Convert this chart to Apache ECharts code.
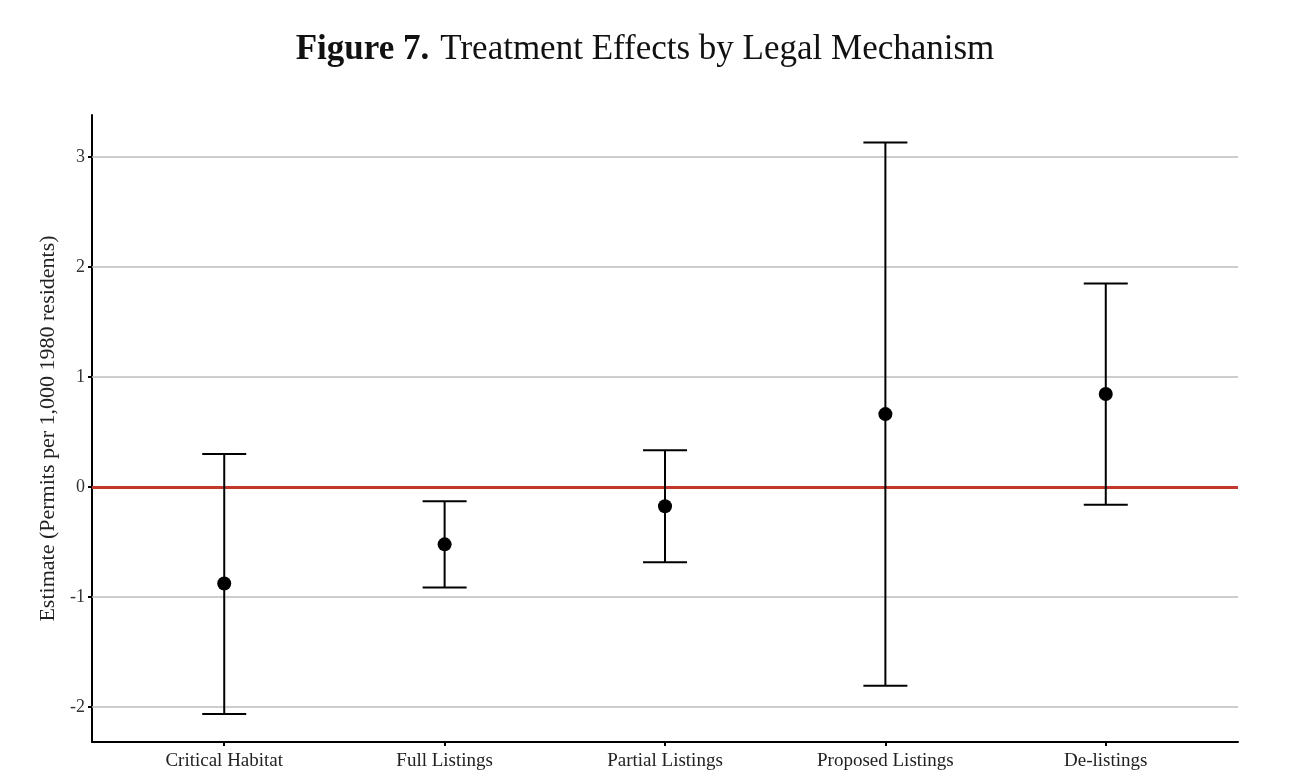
<!DOCTYPE html>
<html>
<head>
<meta charset="utf-8">
<script src="https://cdn.jsdelivr.net/npm/echarts@6/dist/echarts.min.js"></script>
<style>
  html, body { margin: 0; padding: 0; background: #fff; }
  #chart { width: 1290px; height: 782px; }
</style>
</head>
<body>
<div id="chart"></div>
<script>
var categories = ['Critical Habitat', 'Full Listings', 'Partial Listings', 'Proposed Listings', 'De-listings'];
var estimates = [-0.877, -0.522, -0.175, 0.662, 0.844];
var upperCI = [0.30, -0.13, 0.334, 3.13, 1.848];
var lowerCI = [-2.064, -0.915, -0.685, -1.807, -0.161];
var yTicks = [-2, -1, 0, 1, 2, 3];
var gridValues = [-2, -1, 1, 2, 3];

var serif = '"Liberation Serif", "DejaVu Serif", serif';

function initChart() {
  var barData = [];
  var pointData = [];
  for (var i = 0; i < categories.length; i++) {
    barData.push([i, lowerCI[i], upperCI[i]]);
    pointData.push([i, estimates[i]]);
  }

  var option = {
    animation: false,
    backgroundColor: '#fff',
    title: {
      text: '{b|Figure 7.}  {n|Treatment Effects by Legal Mechanism}',
      left: 'center',
      top: 27,
      textStyle: {
        fontWeight: 'normal',
        fontSize: 20,
        rich: {
          b: { fontFamily: serif, fontSize: 35, fontWeight: 'bold', color: '#111' },
          n: { fontFamily: serif, fontSize: 35, fontWeight: 'normal', color: '#111' }
        }
      }
    },
    grid: { left: 92, right: 52, top: 115, bottom: 40 },
    xAxis: {
      type: 'value',
      min: -0.6,
      max: 4.6,
      splitLine: { show: false },
      axisLine: { show: true, onZero: false, lineStyle: { color: '#000', width: 2 } },
      axisTick: { show: true, customValues: [0, 1, 2, 3, 4], length: 4, lineStyle: { color: '#000', width: 2 } },
      axisLabel: {
        customValues: [0, 1, 2, 3, 4],
        formatter: function (v) { return categories[Math.round(v)]; },
        fontFamily: serif,
        fontSize: 19,
        color: '#222',
        margin: 10
      }
    },
    yAxis: {
      type: 'value',
      min: -2.318,
      max: 3.38,
      name: 'Estimate (Permits per 1,000 1980 residents)',
      nameLocation: 'middle',
      nameGap: 33,
      nameTextStyle: { fontFamily: serif, fontSize: 22, color: '#222' },
      splitLine: { show: false },
      axisLine: { show: true, onZero: false, lineStyle: { color: '#000', width: 2 } },
      axisTick: { show: true, customValues: yTicks, length: 4, lineStyle: { color: '#000', width: 2 } },
      axisLabel: {
        customValues: yTicks,
        fontFamily: serif,
        fontSize: 18,
        color: '#333',
        margin: 7
      }
    },
    series: [
      {
        // gridlines and zero line
        type: 'line',
        data: [],
        silent: true,
        markLine: {
          symbol: 'none',
          silent: true,
          label: { show: false },
          data: gridValues.map(function (v) {
            return { yAxis: v, lineStyle: { color: '#bdbdbd', width: 1.5, type: 'solid' } };
          }).concat([{ yAxis: 0, lineStyle: { color: '#c0392b', width: 3, type: 'solid' } }])
        }
      },
      {
        type: 'custom',
        data: barData,
        z: 5,
        renderItem: function (params, api) {
          var x = api.value(0);
          var lo = api.coord([x, api.value(1)]);
          var hi = api.coord([x, api.value(2)]);
          var half = 22;
          var style = { stroke: '#000', lineWidth: 2 };
          return {
            type: 'group',
            children: [
              { type: 'line', shape: { x1: lo[0], y1: lo[1], x2: hi[0], y2: hi[1] }, style: style },
              { type: 'line', shape: { x1: hi[0] - half, y1: hi[1], x2: hi[0] + half, y2: hi[1] }, style: style },
              { type: 'line', shape: { x1: lo[0] - half, y1: lo[1], x2: lo[0] + half, y2: lo[1] }, style: style }
            ]
          };
        }
      },
      {
        type: 'scatter',
        data: pointData,
        z: 6,
        symbol: 'circle',
        symbolSize: 14,
        itemStyle: { color: '#000', opacity: 1 }
      }
    ]
  };

  var myChart = echarts.init(document.getElementById('chart'));
  myChart.setOption(option);
}

initChart();
</script>
</body>
</html>
